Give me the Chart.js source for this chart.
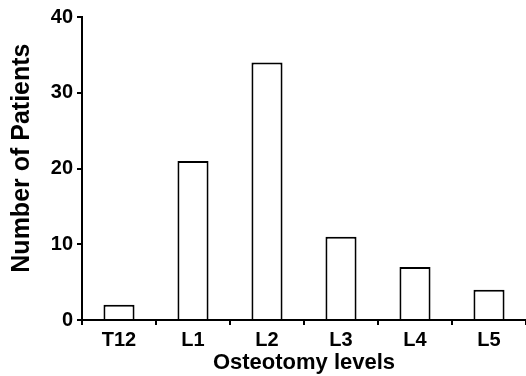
<!DOCTYPE html>
<html>
<head>
<meta charset="utf-8">
<script src="https://cdn.jsdelivr.net/npm/chart.js@4"></script>
<style>
  html, body { margin: 0; padding: 0; background: #fff; }
  #wrap { width: 526px; height: 376px; position: relative; }
</style>
</head>
<body>
<div id="wrap"><canvas id="osteoChart"></canvas></div>
<script>
// Dados do gráfico
const levels = ['T12', 'L1', 'L2', 'L3', 'L4', 'L5'];
const patients = [2, 21, 34, 11, 7, 4];
const yTicks = [0, 10, 20, 30, 40];

const FONT = '"Liberation Sans", Arial, Helvetica, sans-serif';

const ctx = document.getElementById('osteoChart');

new Chart(ctx, {
    type: 'bar',
    data: {
        labels: levels,
        datasets: [{
            label: 'Number of Patients',
            data: patients,
            backgroundColor: '#ffffff',
            borderColor: '#000000',
            borderWidth: 2,
            categoryPercentage: 1,
            barPercentage: 0.42
        }]
    },
    options: {
        responsive: true,
        maintainAspectRatio: false,
        animation: false,
        layout: { padding: { top: 17, right: 0, left: 0, bottom: 0 } },
        plugins: { legend: { display: false }, tooltip: { enabled: false } },
        scales: {
            x: {
                offset: true,
                border: { display: true, color: '#000', width: 2 },
                grid: { drawOnChartArea: false, color: '#000', lineWidth: 2, tickLength: 5 },
                ticks: { color: '#000', padding: 3, font: { family: FONT, size: 20, weight: 'bold' } },
                title: {
                    display: true,
                    text: 'Osteotomy levels',
                    color: '#000',
                    padding: { top: 0, bottom: 0 },
                    font: { family: FONT, size: 22, weight: 'bold' }
                },
                afterFit: (scale) => { scale.height = 56; }
            },
            y: {
                min: yTicks[0],
                max: yTicks[yTicks.length - 1],
                border: { display: true, color: '#000', width: 2 },
                grid: { drawOnChartArea: false, color: '#000', lineWidth: 2, tickLength: 5 },
                ticks: {
                    stepSize: 10,
                    color: '#000',
                    padding: 4,
                    font: { family: FONT, size: 20, weight: 'bold' }
                },
                title: {
                    display: true,
                    text: '   Number of Patients',
                    color: '#000',
                    padding: { top: 7, bottom: 0 },
                    font: { family: FONT, size: 25, weight: 'bold' }
                },
                afterFit: (scale) => { scale.width = 82; }
            }
        }
    }
});
</script>
</body>
</html>
